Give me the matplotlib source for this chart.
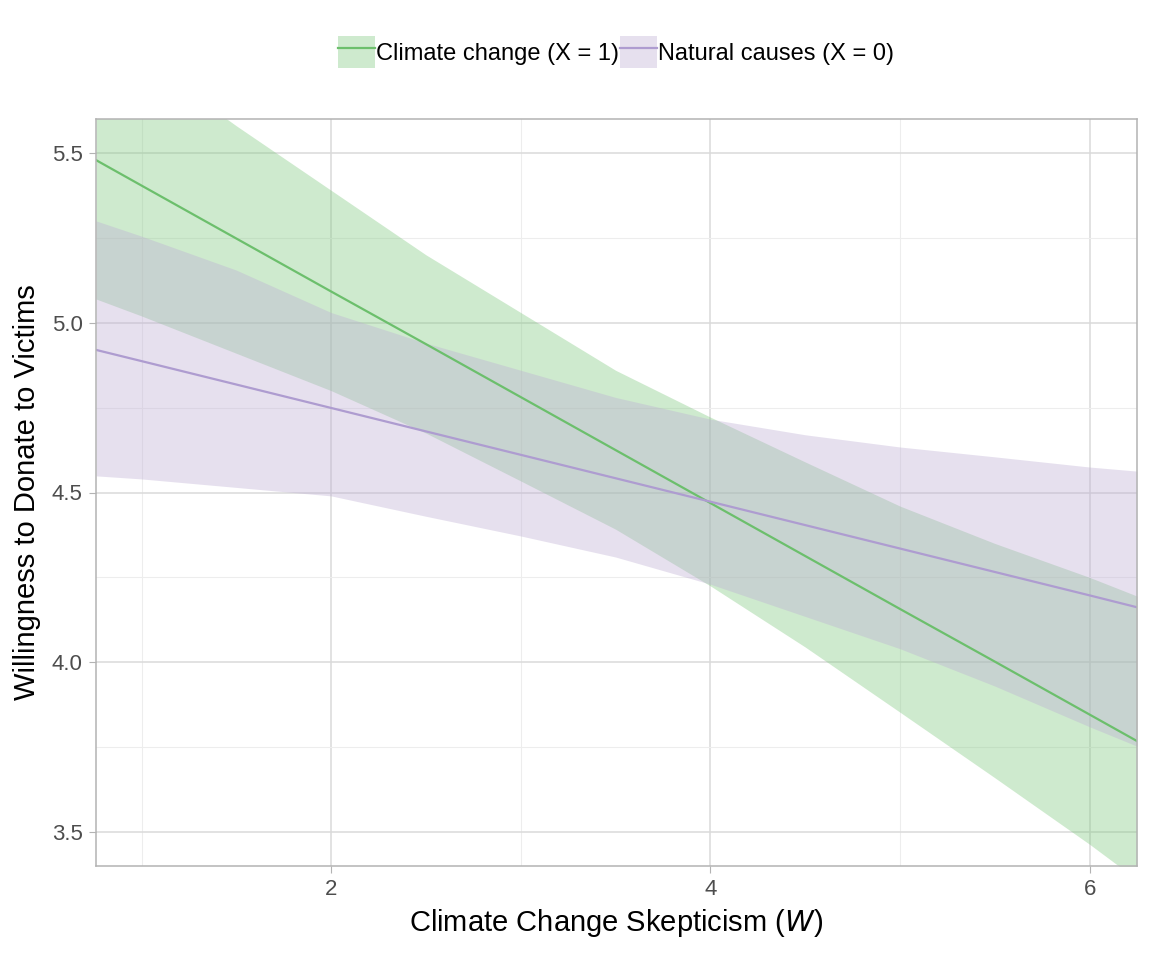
import matplotlib
matplotlib.use("Agg")
import matplotlib.pyplot as plt
from matplotlib.patches import Patch
from matplotlib.lines import Line2D
from matplotlib.legend_handler import HandlerTuple
import numpy as np

plt.rcParams['font.family'] = ['Liberation Sans', 'DejaVu Sans']

# values
w = [0.76, 1.0, 1.5, 2.0, 2.5, 3.0, 3.5, 4.0, 4.5, 5.0, 5.5, 6.0, 6.25]

cc_fit = [5.479, 5.404, 5.248, 5.092, 4.937, 4.781, 4.625, 4.469, 4.313, 4.157, 4.002, 3.846, 3.768]
cc_hi = [5.89, 5.78, 5.58, 5.39, 5.20, 5.03, 4.86, 4.722, 4.59, 4.46, 4.35, 4.25, 4.195]
cc_lo = [5.07, 5.02, 4.91, 4.80, 4.675, 4.534, 4.392, 4.225, 4.045, 3.853, 3.66, 3.464, 3.36]

nc_fit = [4.920, 4.887, 4.818, 4.749, 4.680, 4.611, 4.542, 4.473, 4.404, 4.335, 4.266, 4.197, 4.162]
nc_hi = [5.30, 5.255, 5.155, 5.03, 4.94, 4.86, 4.78, 4.716, 4.67, 4.634, 4.605, 4.575, 4.563]
nc_lo = [4.549, 4.540, 4.515, 4.49, 4.43, 4.372, 4.31, 4.23, 4.135, 4.04, 3.93, 3.81, 3.753]

labels = ['Climate change (X = 1)', 'Natural causes (X = 0)']
green = '#7FC97F'
purple = '#BEAED4'
green_line = '#6CBF6C'
purple_line = '#AE9CD0'
band_alpha = 0.38

fig = plt.figure(figsize=(11.52, 9.6), dpi=100)
ax = fig.add_axes([96/1152, 1-866/960, (1137-96)/1152, (866-119)/960])

ax.fill_between(w, cc_lo, cc_hi, color=green, alpha=band_alpha, lw=0)
ax.fill_between(w, nc_lo, nc_hi, color=purple, alpha=band_alpha, lw=0)
ax.plot(w, cc_fit, color=green_line, lw=1.6)
ax.plot(w, nc_fit, color=purple_line, lw=1.6)

ax.set_xlim(0.76, 6.25)
ax.set_ylim(3.4, 5.6)
ax.set_xticks([2, 4, 6])
ax.set_xticks([1, 3, 5], minor=True)
ax.set_yticks([3.5, 4.0, 4.5, 5.0, 5.5])
ax.set_yticks([3.75, 4.25, 4.75, 5.25], minor=True)
ax.set_yticklabels(['3.5', '4.0', '4.5', '5.0', '5.5'])
ax.grid(which='major', color='#DADADA', lw=1.1)
ax.grid(which='minor', color='#EDEDED', lw=0.8)
ax.set_axisbelow(True)
for s in ax.spines.values():
    s.set_color('#B3B3B3')
    s.set_linewidth(1.1)
ax.tick_params(which='major', length=5, color='#B3B3B3', labelsize=16,
               labelcolor='#4D4D4D', pad=4.5)
ax.tick_params(which='minor', length=0)

ax.set_xlabel('Climate Change Skepticism ($\\it{W}$)', fontsize=21, labelpad=5)
ax.set_ylabel('Willingness to Donate to Victims', fontsize=21, labelpad=8)

handles = [(Patch(facecolor=green, alpha=band_alpha, lw=0), Line2D([], [], color=green_line, lw=1.6)),
           (Patch(facecolor=purple, alpha=band_alpha, lw=0), Line2D([], [], color=purple_line, lw=1.6))]
fig.legend(handles, labels, loc='center', bbox_to_anchor=(616/1152, 1-52/960), ncol=2,
           frameon=False, fontsize=17, handlelength=1.55, handleheight=1.75,
           handletextpad=0.05, columnspacing=0.05,
           handler_map={tuple: HandlerTuple(ndivide=1, pad=0)})

plt.savefig('out.png', dpi=100)
